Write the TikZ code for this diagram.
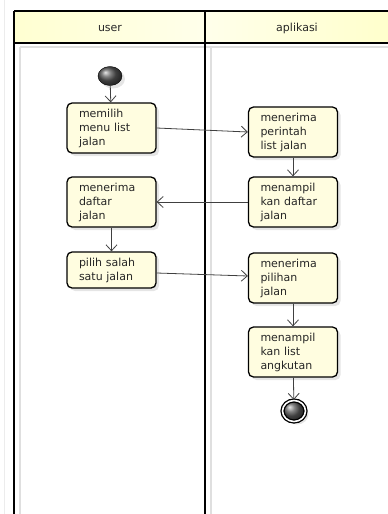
\documentclass[tikz,border=0pt]{standalone}
\usepackage{fontspec}
\setsansfont{DejaVu Sans}
\usetikzlibrary{arrows.meta,shapes.geometric,shadows}
\begin{document}
\begin{tikzpicture}[x=1pt, y=-1pt,
          every node/.style = {font=\sffamily\fontsize{11}{14}\selectfont, text=black!85},
          act/.style = {shape=rectangle, rounded corners=5pt, draw=black, line width=1.3pt, fill=yellow!12,
                        minimum width=89pt, minimum height=50pt, text width=65pt, align=left,
                        inner sep=0pt, drop shadow={shadow xshift=3pt, shadow yshift=-3pt, fill=gray!40}},
          flow/.style = {draw=black!75, line width=0.8pt, -{Straight Barb[length=6pt, width=11pt]}},
          lane/.style = {line width=1.6pt},
          laneshade/.style = {draw=gray!25, line width=1.5pt}]
  \useasboundingbox (0,0) rectangle (388,514);
  % swimlanes
  \shade[left color=yellow!18, right color=yellow!8] (14,11) rectangle (205,43);
  \shade[left color=yellow!8, right color=yellow!20] (205,11) rectangle (388,43);
  \draw[gray!15, line width=1pt] (4,0) -- (4,514);
  \draw[laneshade] (20,47) -- (20,514);
  \draw[laneshade] (211,47) -- (211,514);
  \draw[laneshade] (20,47) -- (388,47);
  \draw[lane] (14,11) -- (388,11);
  \draw[lane] (14,43) -- (388,43);
  \draw[lane] (14,11) -- (14,514);
  \draw[lane] (205,11) -- (205,514);
  \node (user) at (110,28) {user};
  \node (aplikasi) at (297,28) {aplikasi};
  % activities
  \node[shape=ellipse, draw, minimum width=24pt, minimum height=19pt, inner sep=0pt, shading=ball, ball color=gray!70!black,
        drop shadow={shadow xshift=3pt, shadow yshift=-3pt, fill=gray!40}] (start) at (110,76) {};
  \node[act] (memilih) at (111.5,128) {memilih\\menu list\\jalan};
  \node[act] (daftar) at (111.5,202) {menerima\\daftar\\jalan};
  \node[act, minimum height=36pt] (pilih) at (111.5,270) {pilih salah\\satu jalan};
  \node[act] (perintah) at (293,132) {menerima\\perintah\\list jalan};
  \node[act] (tampil) at (293,202) {menampil\\kan daftar\\jalan};
  \node[act] (pilihan) at (293,278) {menerima\\pilihan\\jalan};
  \node[act] (angkutan) at (293,352) {menampil\\kan list\\angkutan};
  \node[shape=ellipse, draw, line width=1.3pt, minimum width=23pt, minimum height=21pt, inner sep=0pt,
        double=white, double distance=1.6pt, shading=ball, ball color=gray!70!black,
        drop shadow={shadow xshift=3pt, shadow yshift=-3pt, fill=gray!40}] (end) at (294,411) {};
  % flows
  \draw[flow] (start) -- (memilih);
  \draw[flow] (memilih.east) -- (perintah.west);
  \draw[flow] (perintah) -- (tampil);
  \draw[flow] (tampil.west) -- (daftar.east);
  \draw[flow] (daftar) -- (pilih);
  \draw[flow] ([yshift=-3pt]pilih.east) -- ([yshift=2pt]pilihan.west);
  \draw[flow] (pilihan) -- (angkutan);
  \draw[flow] (angkutan) -- (end);
\end{tikzpicture}
\end{document}
